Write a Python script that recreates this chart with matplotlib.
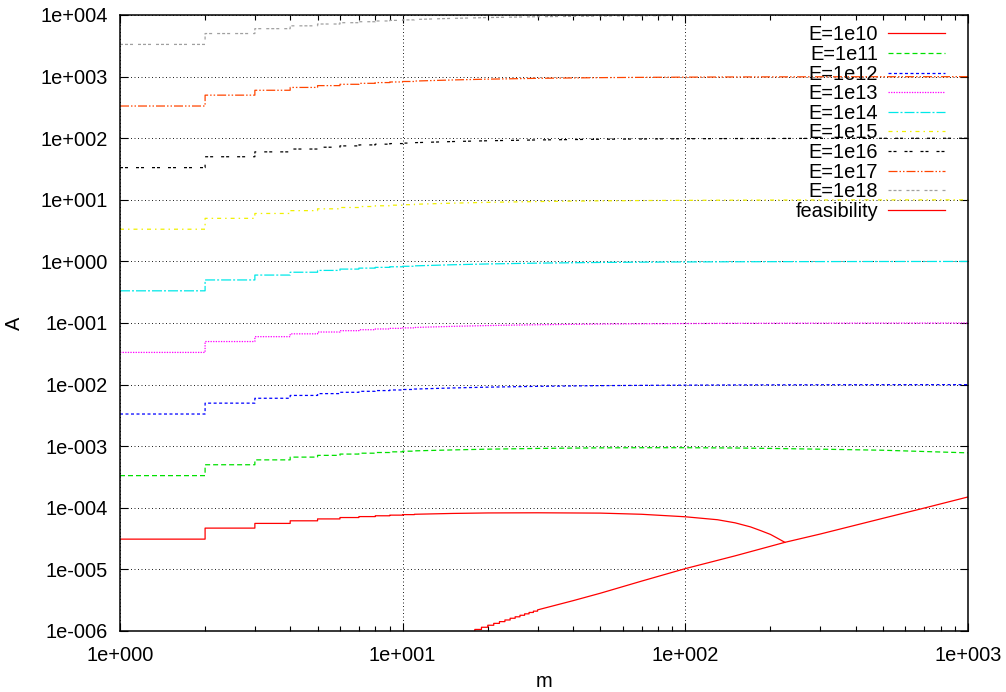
import math
import matplotlib
matplotlib.use("Agg")
import matplotlib.pyplot as plt
from matplotlib.ticker import FixedLocator, NullLocator, FuncFormatter, LogLocator

plt.rcParams["font.family"] = ["Liberation Sans", "DejaVu Sans"]
plt.rcParams["lines.scale_dashes"] = False

# ---- data -------------------------------------------------------------
# sample points in m; the first ten are integers where A is constant on [m, m+1)
m_pts = [1, 2, 3, 4, 5, 6, 7, 8, 9, 10, 11, 15, 20, 30, 50, 70, 100,
         150, 200, 300, 500, 700, 1000]

# E = 1e10 (ends where it meets the feasibility limit)
m_e10 = [1, 2, 3, 4, 5, 6, 7, 8, 9, 10, 11, 15, 20, 30, 50, 70, 100,
         130, 150, 170, 185, 200, 212, 225]
a_e10 = [3.1e-5, 4.68e-5, 5.58e-5, 6.15e-5, 6.6e-5, 6.95e-5, 7.2e-5, 7.42e-5,
         7.6e-5, 7.75e-5, 7.85e-5, 8.1e-5, 8.25e-5, 8.3e-5, 8.2e-5, 7.85e-5,
         7.15e-5, 6.4e-5, 5.7e-5, 4.9e-5, 4.25e-5, 3.7e-5, 3.2e-5, 2.75e-5]

# E = 1e11
a_e11 = [3.33e-4, 5.0e-4, 6.0e-4, 6.65e-4, 7.1e-4, 7.45e-4, 7.7e-4, 7.9e-4,
         8.1e-4, 8.3e-4, 8.4e-4, 8.7e-4, 8.95e-4, 9.2e-4, 9.4e-4, 9.45e-4,
         9.45e-4, 9.35e-4, 9.2e-4, 8.95e-4, 8.6e-4, 8.2e-4, 7.8e-4]

# E >= 1e12: common shape relative to the plateau level
shape = [0.333, 0.5, 0.6, 0.667, 0.714, 0.75, 0.778, 0.8, 0.818, 0.833,
         0.846, 0.882, 0.909, 0.9375, 0.962, 0.972, 0.98, 0.987, 0.99,
         0.993, 0.996, 0.997, 0.998]
plateau = [1e-2, 1e-1, 1e0, 1e1, 1e2, 1e3, 1e4]  # E = 1e12 ... 1e18

# feasibility limit
m_feas = [17, 18, 19, 20, 21, 22, 23, 24, 25, 26, 27, 28, 29, 30, 40, 50,
          70, 100, 150, 225, 300, 500, 700, 1000]
a_feas = [9.7e-7, 1.06e-6, 1.15e-6, 1.24e-6, 1.33e-6, 1.42e-6, 1.51e-6,
          1.61e-6, 1.70e-6, 1.80e-6, 1.90e-6, 2.0e-6, 2.1e-6, 2.2e-6, 3.1e-6,
          4.1e-6, 6.45e-6, 1.03e-5, 1.66e-5, 2.75e-5, 3.75e-5, 6.75e-5,
          9.9e-5, 1.5e-4]

labels = ["E=1e10", "E=1e11", "E=1e12", "E=1e13", "E=1e14", "E=1e15",
          "E=1e16", "E=1e17", "E=1e18", "feasibility"]
colors = ["#ff0000", "#00e000", "#0000ff", "#ff00ff", "#00e8e8", "#f0f000",
          "#000000", "#ff4500", "#a0a0a0", "#ff0000"]
PX = 72.0 / 100.0  # one pixel in points
styles = [
    "-",
    (0, (5 * PX, 3 * PX)),
    (0, (3 * PX, 2.5 * PX)),
    (0, (1.3 * PX, 1.3 * PX)),
    (0, (10 * PX, 2 * PX, 2 * PX, 2 * PX)),
    (0, (4 * PX, 4 * PX, 1.5 * PX, 4 * PX)),
    (0, (3 * PX, 2 * PX, 3 * PX, 8 * PX)),
    (0, (9 * PX, 2 * PX, 1.5 * PX, 2 * PX, 1.5 * PX, 2 * PX)),
    (0, (3 * PX, 2 * PX, 3 * PX, 2 * PX, 3 * PX, 5 * PX)),
    "-",
]


def stepped(m, a, n_int):
    """Hold each of the first n_int values until the next sample, then join."""
    xs, ys = [], []
    for i in range(n_int):
        xs += [m[i], m[i + 1]]
        ys += [a[i], a[i]]
    xs += list(m[n_int:])
    ys += list(a[n_int:])
    return xs, ys


series = [(m_e10, a_e10, 10), (m_pts, a_e11, 10)]
for lev in plateau:
    series.append((m_pts, [lev * s for s in shape], 10))
series.append((m_feas, a_feas, 13))

# ---- figure -------------------------------------------------------------
FS = 14.4
fig = plt.figure(figsize=(10.06, 6.92), dpi=100)
ax = fig.add_axes([120 / 1006, (692 - 631) / 692, 848 / 1006, 616 / 692])
ax.set_xscale("log")
ax.set_yscale("log")
ax.set_xlim(1, 1000)
ax.set_ylim(1e-6, 1e4)

for (m, a, n), lab, col, ls in zip(series, labels, colors, styles):
    xs, ys = stepped(m, a, n)
    ax.plot(xs, ys, color=col, linestyle=ls, linewidth=0.9, label=lab)


def sci(v, pos):
    e = int(round(math.log10(v)))
    return "1e%s%03d" % ("+" if e >= 0 else "-", abs(e))


ax.xaxis.set_major_locator(FixedLocator([1, 10, 100, 1000]))
ax.xaxis.set_minor_locator(LogLocator(base=10, subs=range(2, 10)))
ax.xaxis.set_minor_formatter(FuncFormatter(lambda v, p: ""))
ax.xaxis.set_major_formatter(FuncFormatter(sci))
ax.yaxis.set_major_locator(FixedLocator([10.0 ** k for k in range(-6, 5)]))
ax.yaxis.set_minor_locator(NullLocator())
ax.yaxis.set_major_formatter(FuncFormatter(sci))

ax.tick_params(which="both", direction="in", top=True, right=True,
               labelsize=FS, width=0.8, color="black")
ax.tick_params(axis="x", which="major", length=6, pad=10.5)
ax.tick_params(axis="x", which="minor", length=3.5)
ax.tick_params(axis="y", which="major", length=6, pad=8.5)

ax.grid(True, which="major", color="#222222", linestyle=(0, (1 * PX, 2.5 * PX)),
        linewidth=0.7)
for sp in ax.spines.values():
    sp.set_linewidth(1.1)

ax.set_xlabel("m", fontsize=FS, labelpad=5.5)
ax.set_ylabel("A", fontsize=FS, labelpad=12)

leg = ax.legend(loc="upper right", bbox_to_anchor=(0.989, 1.006), frameon=False,
                markerfirst=False, fontsize=FS, handlelength=2.81,
                handletextpad=0.52, labelspacing=0.03, borderpad=0.2)

fig.savefig("out.png", dpi=100)
